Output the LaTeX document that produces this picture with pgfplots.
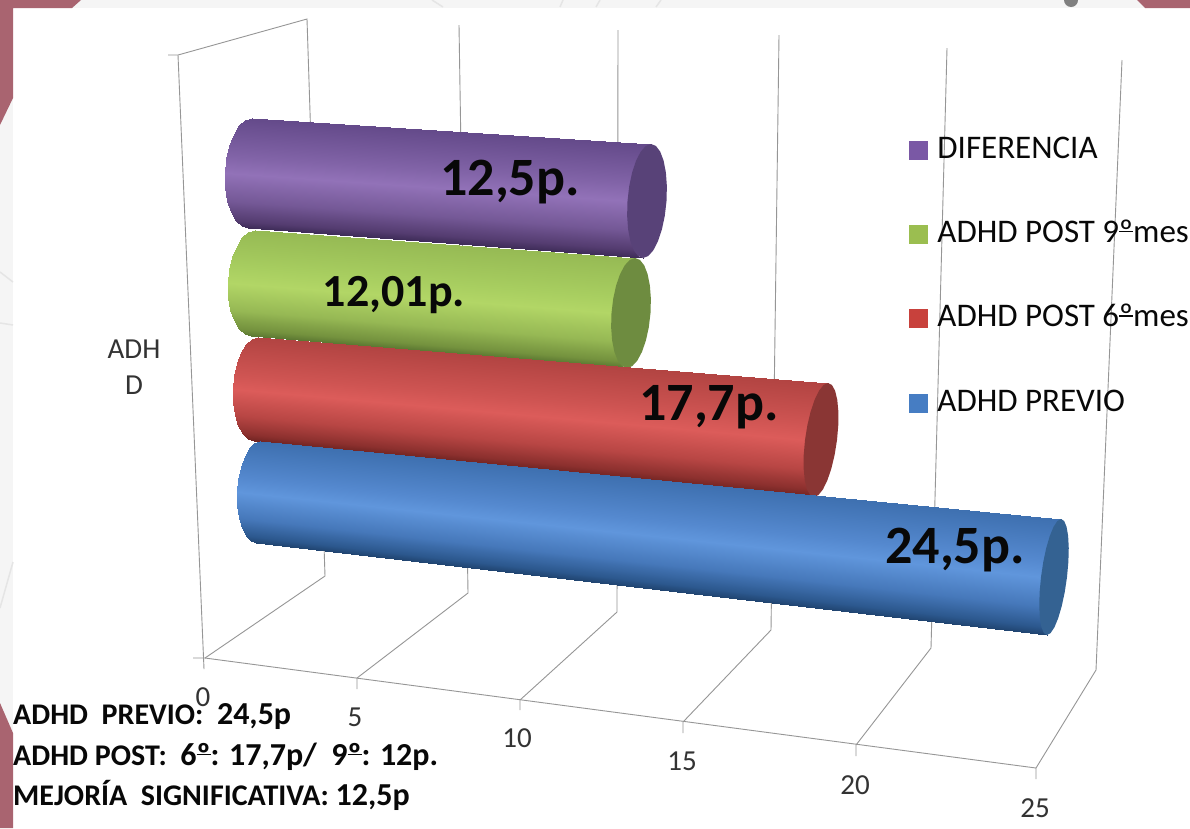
\documentclass[border=0pt]{standalone}
\usepackage{pgfplots}
\usepackage{pgfplotstable}
\usepackage{fontspec}
\setmainfont{Carlito}
\pgfplotsset{compat=1.18}

% Ordinal indicator with its underbar
\newcommand{\ord}{\leavevmode\setbox0\hbox{º}\rlap{º}\rule[0.31em]{\wd0}{0.05em}}
% Larger figures within the summary lines
\newcommand{\figs}[1]{{\fontsize{32}{35}\selectfont #1}}

% Shading across each cylinder, top edge (0) to bottom edge (1)
\pgfplotsset{
  colormap={purplebar}{rgb255(0cm)=(100,74,138) rgb255(3.5cm)=(130,100,168) rgb255(5cm)=(146,114,184) rgb255(7.5cm)=(116,88,150) rgb255(9.3cm)=(84,60,112) rgb255(10cm)=(62,44,88)},
  colormap={greenbar}{rgb255(0cm)=(150,186,84) rgb255(3.5cm)=(168,206,96) rgb255(5cm)=(178,214,102) rgb255(7.5cm)=(150,184,84) rgb255(9.3cm)=(116,146,62) rgb255(10cm)=(92,120,50)},
  colormap={redbar}{rgb255(0cm)=(178,68,66) rgb255(3.5cm)=(206,84,82) rgb255(5cm)=(220,92,90) rgb255(7.5cm)=(184,70,68) rgb255(9.3cm)=(140,48,46) rgb255(10cm)=(112,36,34)},
  colormap={bluebar}{rgb255(0cm)=(62,112,176) rgb255(3.5cm)=(84,136,206) rgb255(5cm)=(96,150,220) rgb255(7.5cm)=(70,120,186) rgb255(9.3cm)=(44,88,142) rgb255(10cm)=(32,68,112)},
}

% Half-circle outline of the visible cylinder surface, at both ends (u=0, u=1)
\pgfplotstableread{
u c s t
0 0.000 -1.000 0.000
1 0.000 -1.000 0.000
0 0.259 -0.966 0.017
1 0.259 -0.966 0.017
0 0.500 -0.866 0.067
1 0.500 -0.866 0.067
0 0.707 -0.707 0.146
1 0.707 -0.707 0.146
0 0.866 -0.500 0.250
1 0.866 -0.500 0.250
0 0.966 -0.259 0.371
1 0.966 -0.259 0.371
0 1.000 0.000 0.500
1 1.000 0.000 0.500
0 0.966 0.259 0.629
1 0.966 0.259 0.629
0 0.866 0.500 0.750
1 0.866 0.500 0.750
0 0.707 0.707 0.854
1 0.707 0.707 0.854
0 0.500 0.866 0.933
1 0.500 0.866 0.933
0 0.259 0.966 0.983
1 0.259 0.966 0.983
0 0.000 1.000 1.000
1 0.000 1.000 1.000
}\bodyprofile

% Full circle of the end cap
\pgfplotstableread{
k c s
0 1.000 0.000
1 0.966 0.259
2 0.866 0.500
3 0.707 0.707
4 0.500 0.866
5 0.259 0.966
6 0.000 1.000
7 -0.259 0.966
8 -0.500 0.866
9 -0.707 0.707
10 -0.866 0.500
11 -0.966 0.259
12 -1.000 0.000
13 -0.966 -0.259
14 -0.866 -0.500
15 -0.707 -0.707
16 -0.500 -0.866
17 -0.259 -0.966
18 0.000 -1.000
19 0.259 -0.966
20 0.500 -0.866
21 0.707 -0.707
22 0.866 -0.500
23 0.966 -0.259
}\capprofile

\pgfkeys{/cyl/.cd,
  value/.store in=\cylval,
  xa/.store in=\cylxa, ya/.store in=\cylya, rxa/.store in=\cylrxa, rya/.store in=\cylrya, sha/.store in=\cylsha,
  xb/.store in=\cylxb, yb/.store in=\cylyb, rxb/.store in=\cylrxb, ryb/.store in=\cylryb, shb/.store in=\cylshb}

\def\unitlen{31.8}

% One bar: body surface from 0 to its value, then the darker end cap
\newcommand{\cylinder}[3]{%
  \pgfkeys{/cyl/.cd,#1}%
  \addplot3[surf, shader=interp, colormap name=#2, forget plot, mesh/cols=2, z buffer=none,
    point meta=\thisrow{t}]
    table[x expr=\thisrow{u}*\cylval,
          y expr={\cylxa+\thisrow{u}*(\cylxb-\cylxa-\unitlen*\cylval)-(\cylrxa+\thisrow{u}*(\cylrxb-\cylrxa))*\thisrow{c}-(\cylsha+\thisrow{u}*(\cylshb-\cylsha))*\thisrow{s}},
          z expr={\cylya+\thisrow{u}*(\cylyb-\cylya)+(\cylrya+\thisrow{u}*(\cylryb-\cylrya))*\thisrow{s}}]
    {\bodyprofile};
  \addplot3[fill=#3, draw=none, forget plot]
    table[x expr=\cylval,
          y expr={\cylxb-\unitlen*\cylval+\cylrxb*\thisrow{c}-\cylshb*\thisrow{s}},
          z expr={\cylyb+\cylryb*\thisrow{s}}]
    {\capprofile} -- cycle;
}

\definecolor{maroon}{RGB}{169,100,112}
\definecolor{wall}{RGB}{150,150,150}
\definecolor{ink}{RGB}{8,8,8}
\definecolor{capA}{RGB}{88,66,120}
\definecolor{capB}{RGB}{110,140,64}
\definecolor{capC}{RGB}{138,54,52}
\definecolor{capD}{RGB}{52,98,146}
\definecolor{keyA}{RGB}{122,88,165}
\definecolor{keyB}{RGB}{155,190,80}
\definecolor{keyC}{RGB}{200,65,60}
\definecolor{keyD}{RGB}{70,125,195}

\tikzset{
  axlabel/.style={font=\fontsize{29}{32}\selectfont, text=black!80},
  summary/.style={anchor=base west, inner sep=0pt, font=\fontsize{30}{33}\selectfont\bfseries, text=ink},
  barlabel/.style={font=\fontsize{54}{58}\selectfont\bfseries, text=ink},
}

\begin{document}
\begin{tikzpicture}[x=1pt,y=1pt]
  \path[use as bounding box, fill=white] (0,0) rectangle (1190,-828);
  % slide frame
  \fill[black!4] (0,0) rectangle (1190,-8);
  \fill[black!4] (0,0) rectangle (13,-828);
  \fill[maroon] (0,0) -- (81,0) -- (72,-8) -- (13,-8) -- (13,-98) -- (0,-125) -- cycle;
  \fill[maroon] (1137,0) -- (1190,0) -- (1190,-8) -- (1145,-8) -- cycle;
  \fill[maroon] (0,-703) -- (13,-733) -- (13,-828) -- (0,-828) -- cycle;
  \fill[black!50] (1071,0) circle (7);
  % faint ornaments showing through the frame
  \draw[black!10, line width=1.5pt] (0,-272) -- (13,-282);
  \draw[black!10, line width=1.5pt] (0,-323) -- (13,-325);
  \draw[black!10, line width=1.5pt] (13,-562) -- (0,-608);
  \draw[black!10, line width=1.5pt] (432,0) -- (443,-7);
  \draw[black!10, line width=1.5pt] (560,-7) -- (563,0);
  \draw[black!10, line width=1.5pt] (596,-7) -- (600,0);
  \draw[black!10, line width=1.5pt] (656,-7) -- (661,0);

  \begin{axis}[
    anchor=origin, at={(0,0)},
    x={(\unitlen pt,0pt)}, y={(1pt,0pt)}, z={(0pt,-1pt)},
    xmin=0, xmax=30, ymin=0, ymax=1190, zmin=0, zmax=828,
    hide axis, clip=false,
    point meta min=0, point meta max=1,
    wall/.style={draw=wall, line width=0.9pt, forget plot},
    legend style={at={(axis cs:0,909,136)}, anchor=north west, draw=none, fill=none,
      inner sep=0pt, row sep=56.3pt,
      nodes={inner sep=0pt, font=\fontsize{33}{36}\selectfont, text=ink, text height=22pt, text depth=6pt}},
    legend cell align=left,
    legend image code/.code={\fill[#1, draw=none] (0pt,-9.5pt) rectangle (19pt,9.5pt); \path (28pt,0pt);},
  ]
    % side wall and floor outline
    \addplot3[wall] coordinates {(0,168,55) (0,178,55) (0,307,19) (0,325,576) (0,205,658)};
    \addplot3[wall] coordinates {(0,178,55) (0,204,669)};
    \addplot3[wall] coordinates {(0,193,658) (0,205,658) (0,1036,768) (0,1036,779)};
    % gridlines at 5, 10, 15, 20, 25
    \addplot3[wall] coordinates {(0,357,689) (0,357,678) (0,468,593) (0,459,25)};
    \addplot3[wall] coordinates {(0,520,710) (0,520,700) (0,617,612) (0,618,30)};
    \addplot3[wall] coordinates {(0,683,733) (0,683,722) (0,771,630) (0,779,35)};
    \addplot3[wall] coordinates {(0,856,756) (0,856,745) (0,931,648) (0,947,48)};
    \addplot3[wall] coordinates {(0,1036,768) (0,1096,670) (0,1122,60)};

    % series, back to front
    \cylinder{value=12.5, xa=250, ya=173, rxa=25, rya=55, sha=2, xb=647, yb=201, rxb=19.5, ryb=57, shb=4}{purplebar}{capA}
    \cylinder{value=12.01, xa=253, ya=283, rxa=25, rya=53, sha=2, xb=631, yb=313, rxb=19.5, ryb=55, shb=4}{greenbar}{capB}
    \cylinder{value=17.7, xa=256, ya=389, rxa=23, rya=52, sha=2, xb=821, yb=440, rxb=16, ryb=57, shb=7}{redbar}{capC}
    \cylinder{value=24.5, xa=258, ya=492, rxa=21, rya=51, sha=2, xb=1054, yb=577, rxb=13, ryb=58, shb=7}{bluebar}{capD}

    % data labels
    \node[barlabel] at (axis cs:0,510,182) {12,5p.};
    \node[barlabel, font=\fontsize{46}{50}\selectfont\bfseries] at (axis cs:0,394,295) {12,01p.};
    \node[barlabel] at (axis cs:0,709,407) {17,7p.};
    \node[barlabel] at (axis cs:0,955,550) {24,5p.};

    % tick labels and category label
    \node[axlabel] at (axis cs:0,203,697) {0};
    \node[axlabel] at (axis cs:0,355,717) {5};
    \node[axlabel] at (axis cs:0,517,738) {10};
    \node[axlabel] at (axis cs:0,682,761) {15};
    \node[axlabel] at (axis cs:0,855,785) {20};
    \node[axlabel] at (axis cs:0,1035,808) {25};
    \node[axlabel] at (axis cs:0,134,349) {ADH};
    \node[axlabel] at (axis cs:0,134,385) {D};

    % summary under the plot
    \node[summary] at (axis cs:0,13,724) {ADHD\ \ PREVIO:\ \ \figs{24,5p}};
    \node[summary] at (axis cs:0,13,765) {ADHD POST:\ \ \figs{6\ord: 17,7p/\ \ 9\ord: 12p.}};
    \node[summary] at (axis cs:0,13,805) {MEJORÍA\ \ SIGNIFICATIVA: \figs{12,5p}};

    % legend
    \addlegendimage{fill=keyA}
    \addlegendentry{DIFERENCIA}
    \addlegendimage{fill=keyB}
    \addlegendentry{ADHD POST 9\ord mes}
    \addlegendimage{fill=keyC}
    \addlegendentry{ADHD POST 6\ord mes}
    \addlegendimage{fill=keyD}
    \addlegendentry{ADHD PREVIO}
  \end{axis}
\end{tikzpicture}
\end{document}
